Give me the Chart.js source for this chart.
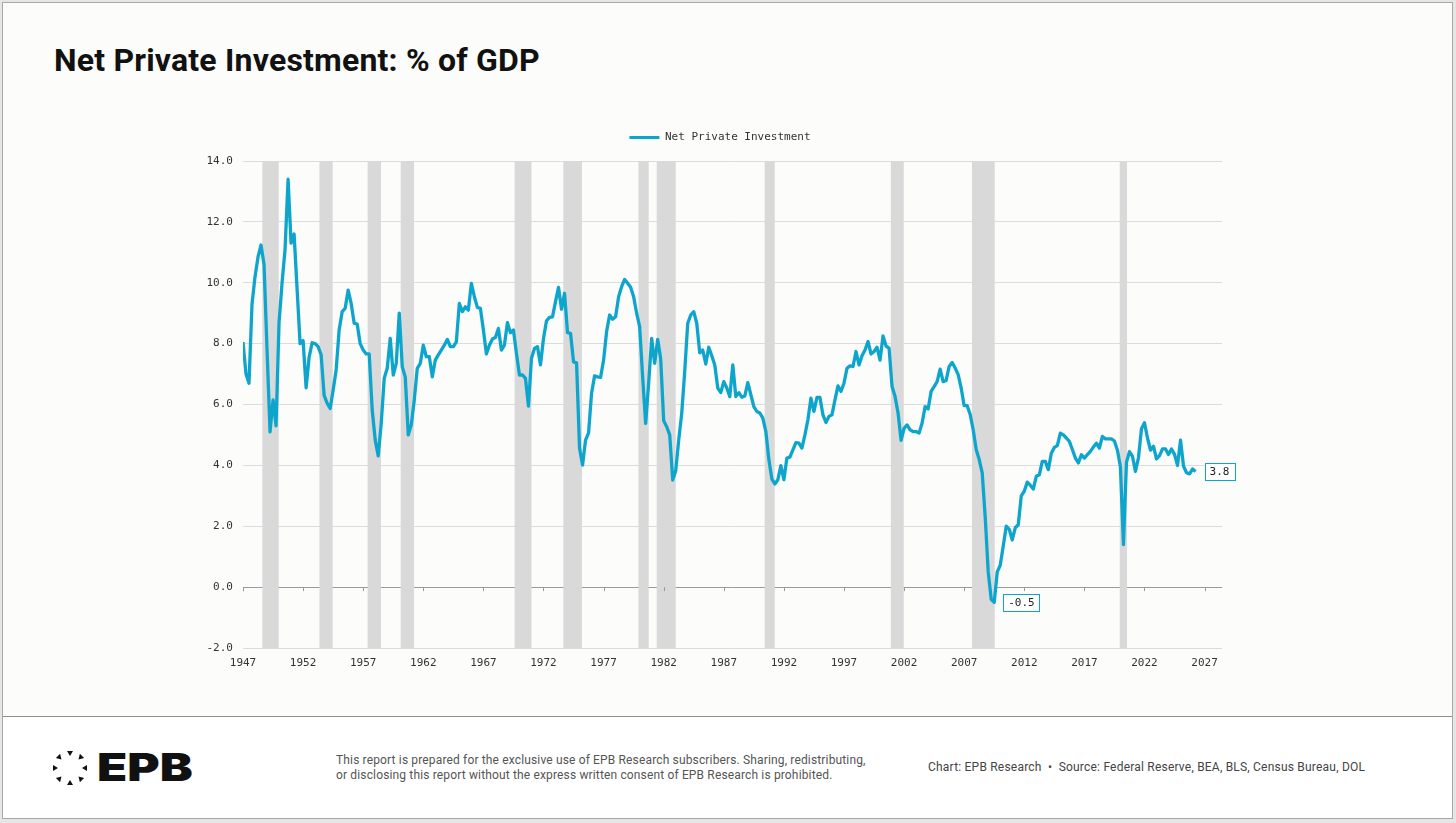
<!DOCTYPE html>
<html>
<head>
<meta charset="utf-8">
<script src="https://cdn.jsdelivr.net/npm/chart.js@4.4.1/dist/chart.umd.min.js"></script>
<style>
  body { margin: 0; width: 1456px; height: 823px; background: #e6e6e6; position: relative; overflow: hidden; }
  #card { position: absolute; left: 2px; top: 2px; width: 1449px; height: 815px; border: 1px solid #a8a8a8; background: #fff; }
  #top { position: absolute; left: 0; top: 0; width: 1449px; height: 713px; background: #fcfcfa; border-bottom: 1px solid #8e8e8e; }
  h1 { position: absolute; left: 51px; top: 41px; margin: 0; font: 700 32px Roboto, sans-serif; letter-spacing: 0.2px; color: #111; line-height: 32px; }
  #myChart { position: absolute; left: 0; top: 110px; }
  .note { position: absolute; font: 12px Roboto, sans-serif; color: #555; line-height: 15px; letter-spacing: 0.15px; }
  #logo { position: absolute; left: 50px; top: 748px; }
  #epb { position: absolute; left: 97px; top: 748px; font: 900 38px Inter, sans-serif; color: #111; line-height: 38px; transform: scaleX(1.3); transform-origin: left center; }
</style>
</head>
<body>
<div id="card">
  <div id="top">
    <h1>Net Private Investment: % of GDP</h1>
  </div>
</div>
<canvas id="myChart" width="1456" height="568"></canvas>

<svg id="logo" width="40" height="40" viewBox="-20 -20 40 40">
  <g fill="#111">
    <polygon points="-3,-17 3,-17 0,-12" transform="rotate(0)"/>
    <polygon points="-3,-17 3,-17 0,-12" transform="rotate(45)"/>
    <polygon points="-3,-17 3,-17 0,-12" transform="rotate(90)"/>
    <polygon points="-3,-17 3,-17 0,-12" transform="rotate(135)"/>
    <polygon points="-3,-17 3,-17 0,-12" transform="rotate(180)"/>
    <polygon points="-3,-17 3,-17 0,-12" transform="rotate(225)"/>
    <polygon points="-3,-17 3,-17 0,-12" transform="rotate(270)"/>
    <polygon points="-3,-17 3,-17 0,-12" transform="rotate(315)"/>
  </g>
</svg>
<div id="epb">EPB</div>
<div class="note" style="left:336px; top:753px;">This report is prepared for the exclusive use of EPB Research subscribers. Sharing, redistributing,<br>or disclosing this report without the express written consent of EPB Research is prohibited.</div>
<div class="note" style="left:928px; top:760px; color:#444; letter-spacing:0.21px;">Chart: EPB Research &nbsp;•&nbsp; Source: Federal Reserve, BEA, BLS, Census Bureau, DOL</div>

<script>
//Datos (trimestrales, desde 1947 T1)
var startYear = 1947;
var seriesName = 'Net Private Investment';
var npi = [
  8.05, 7.0, 6.7, 9.3,      // 1947
  10.2, 10.85, 11.24, 10.6, // 1948
  7.8, 5.1, 6.15, 5.3,      // 1949
  8.7, 10.0, 11.1, 13.4,    // 1950
  11.3, 11.6, 9.8, 8.0,     // 1951
  8.1, 6.55, 7.55, 8.03,    // 1952
  8.0, 7.9, 7.63, 6.3,      // 1953
  6.04, 5.87, 6.48, 7.13,   // 1954
  8.45, 9.05, 9.16, 9.76,   // 1955
  9.32, 8.67, 8.64, 8.0,    // 1956
  7.79, 7.66, 7.66, 5.82,   // 1957
  4.83, 4.31, 5.38, 6.86,   // 1958
  7.19, 8.17, 6.97, 7.35,   // 1959
  9.0, 7.24, 6.9, 5.0,      // 1960
  5.33, 6.15, 7.19, 7.35,   // 1961
  7.95, 7.57, 7.57, 6.91,   // 1962
  7.46, 7.63, 7.79, 7.95,   // 1963
  8.14, 7.9, 7.9, 8.06,     // 1964
  9.32, 9.05, 9.21, 9.1,    // 1965
  9.98, 9.54, 9.19, 9.16,   // 1966
  8.45, 7.66, 7.95, 8.15,   // 1967
  8.2, 8.5, 7.79, 7.95,     // 1968
  8.69, 8.36, 8.45, 7.68,   // 1969
  6.97, 6.97, 6.86, 5.95,   // 1970
  7.52, 7.84, 7.9, 7.3,     // 1971
  8.17, 8.75, 8.86, 8.88,   // 1972
  9.38, 9.85, 9.13, 9.65,   // 1973
  8.36, 8.34, 7.4, 7.37,    // 1974
  4.56, 4.01, 4.83, 5.07,   // 1975
  6.37, 6.94, 6.91, 6.89,   // 1976
  7.46, 8.39, 8.94, 8.8,    // 1977
  8.88, 9.54, 9.87, 10.11,  // 1978
  9.98, 9.85, 9.54, 9.0,    // 1979
  8.56, 6.9, 5.38, 6.7,     // 1980
  8.17, 7.35, 8.14, 7.5,    // 1981
  5.47, 5.27, 5.0, 3.52,    // 1982
  3.82, 4.83, 5.71, 7.08,   // 1983
  8.67, 8.94, 9.05, 8.67,   // 1984
  7.7, 7.79, 7.33, 7.88,    // 1985
  7.6, 7.3, 6.54, 6.39,     // 1986
  6.75, 6.54, 6.26, 7.3,    // 1987
  6.26, 6.39, 6.24, 6.28,   // 1988
  6.72, 6.32, 5.93, 5.77,   // 1989
  5.72, 5.55, 5.11, 4.19,   // 1990
  3.55, 3.39, 3.53, 3.99,   // 1991
  3.53, 4.24, 4.27, 4.51,   // 1992
  4.75, 4.73, 4.57, 5.0,    // 1993
  5.5, 6.21, 5.77, 6.23,    // 1994
  6.23, 5.66, 5.41, 5.61,   // 1995
  5.66, 6.15, 6.61, 6.43,   // 1996
  6.7, 7.19, 7.27, 7.25,    // 1997
  7.74, 7.3, 7.6, 7.79,     // 1998
  8.07, 7.66, 7.74, 7.88,   // 1999
  7.46, 8.25, 7.92, 7.85,   // 2000
  6.59, 6.26, 5.72, 4.82,   // 2001
  5.22, 5.33, 5.17, 5.11,   // 2002
  5.11, 5.06, 5.39, 5.93,   // 2003
  5.85, 6.43, 6.59, 6.75,   // 2004
  7.16, 6.75, 6.79, 7.25,   // 2005
  7.38, 7.2, 6.98, 6.54,    // 2006
  5.96, 5.96, 5.67, 5.17,   // 2007
  4.52, 4.19, 3.75, 2.3,    // 2008
  0.5, -0.4, -0.5, 0.5,     // 2009
  0.72, 1.35, 2.0, 1.9,     // 2010
  1.55, 1.95, 2.05, 3.0,    // 2011
  3.15, 3.45, 3.35, 3.22,   // 2012
  3.64, 3.69, 4.13, 4.13,   // 2013
  3.86, 4.4, 4.59, 4.65,    // 2014
  5.06, 5.0, 4.9, 4.79,     // 2015
  4.52, 4.24, 4.08, 4.35,   // 2016
  4.24, 4.35, 4.46, 4.6,    // 2017
  4.73, 4.57, 4.95, 4.87,   // 2018
  4.87, 4.87, 4.8, 4.5,     // 2019
  3.95, 1.4, 4.1, 4.45,     // 2020
  4.3, 3.8, 4.25, 5.2,      // 2021
  5.4, 4.9, 4.5, 4.63,      // 2022
  4.21, 4.32, 4.54, 4.54,   // 2023
  4.36, 4.54, 4.36, 4.0,    // 2024
  4.83, 3.97, 3.76, 3.72,   // 2025
  3.88, 3.8                 // 2026
];

//Recesiones (sombreado)
var recStart = [1948.61, 1953.36, 1957.37, 1960.12, 1969.6, 1973.65, 1979.9, 1981.42, 1990.4, 2000.9, 2007.65, 2019.94];
var recEnd   = [1949.97, 1954.46, 1958.48, 1961.23, 1971.0, 1975.2, 1980.75, 1983.0, 1991.24, 2001.97, 2009.54, 2020.55];

//Ejes
var xTicks = [1947, 1952, 1957, 1962, 1967, 1972, 1977, 1982, 1987, 1992, 1997, 2002, 2007, 2012, 2017, 2022, 2027];
var yTicks = [-2, 0, 2, 4, 6, 8, 10, 12, 14];

var lineColor = '#0ea5cd';
var monoFont = { family: 'DejaVu Sans Mono', size: 11 };

var points = npi.map(function(v, i) {
    return { x: startYear + i / 4, y: v };
});

//Espacio extra bajo la leyenda
var legendGap = {
    id: 'legendGap',
    beforeInit: function(chart) {
        var fitOrig = chart.legend.fit;
        chart.legend.fit = function() {
            fitOrig.bind(chart.legend)();
            this.height += 8;
        };
    }
};

//Sombreado de recesiones
var recessionBands = {
    id: 'recessionBands',
    beforeDatasetsDraw: function(chart) {
        var ctx = chart.ctx, xs = chart.scales.x, area = chart.chartArea;
        ctx.save();
        ctx.fillStyle = '#d9d9d9';
        for (var i = 0; i < recStart.length; i++) {
            var x1 = xs.getPixelForValue(recStart[i]);
            var x2 = xs.getPixelForValue(recEnd[i]);
            ctx.fillRect(x1, area.top, x2 - x1, area.bottom - area.top);
        }
        ctx.restore();
    }
};

//Marcas del eje x sobre la linea de cero
var zeroTicks = {
    id: 'zeroTicks',
    afterDatasetsDraw: function(chart) {
        var ctx = chart.ctx, xs = chart.scales.x, ys = chart.scales.y;
        var y0 = ys.getPixelForValue(0);
        ctx.save();
        ctx.strokeStyle = '#9a9a9a';
        ctx.lineWidth = 1;
        ctx.beginPath();
        xTicks.forEach(function(t) {
            var x = Math.round(xs.getPixelForValue(t)) + 0.5;
            ctx.moveTo(x, y0);
            ctx.lineTo(x, y0 + 4);
        });
        ctx.stroke();
        ctx.restore();
    }
};

//Etiquetas de valor (minimo y ultimo)
var valueTags = {
    id: 'valueTags',
    afterDatasetsDraw: function(chart) {
        var ctx = chart.ctx, xs = chart.scales.x, ys = chart.scales.y;
        var minIdx = 0;
        for (var i = 1; i < points.length; i++) {
            if (points[i].y < points[minIdx].y) minIdx = i;
        }
        var tags = [points[minIdx], points[points.length - 1]];
        ctx.save();
        ctx.font = '11px "DejaVu Sans Mono"';
        ctx.textBaseline = 'middle';
        tags.forEach(function(p) {
            var txt = p.y.toFixed(1);
            var px = xs.getPixelForValue(p.x) + 9;
            var py = ys.getPixelForValue(p.y);
            var w = ctx.measureText(txt).width + 10;
            var h = 17;
            ctx.fillStyle = '#ffffff';
            ctx.fillRect(px, py - h / 2, w, h);
            ctx.strokeStyle = lineColor;
            ctx.lineWidth = 1;
            ctx.strokeRect(Math.round(px) + 0.5, Math.round(py - h / 2) + 0.5, Math.round(w), h);
            ctx.fillStyle = '#222';
            ctx.fillText(txt, px + 5, py + 0.5);
        });
        ctx.restore();
    }
};

var ctx = document.getElementById('myChart').getContext('2d');

var myChart = new Chart(ctx, {
    type: 'line',
    data: {
        datasets: [{
            label: seriesName,
            data: points,
            borderColor: lineColor,
            backgroundColor: lineColor,
            borderWidth: 3.3,
            pointRadius: 0,
            tension: 0,
            borderJoinStyle: 'round',
            fill: false
        }]
    },
    options: {
        responsive: false,
        animation: false,
        layout: { padding: { left: 218, right: 234, top: 10, bottom: 0 } },
        plugins: {
            legend: {
                position: 'top',
                labels: {
                    boxWidth: 30,
                    boxHeight: 3,
                    padding: 12,
                    color: '#333',
                    font: monoFont,
                    generateLabels: function(chart) {
                        var items = Chart.defaults.plugins.legend.labels.generateLabels(chart);
                        items.forEach(function(it) { it.lineWidth = 0; });
                        return items;
                    }
                }
            },
            tooltip: { enabled: false }
        },
        scales: {
            x: {
                type: 'linear',
                min: 1947,
                max: 2028.45,
                afterBuildTicks: function(scale) {
                    scale.ticks = xTicks.map(function(v) { return { value: v }; });
                },
                afterFit: function(scale) { scale.height = 30; },
                grid: { display: false, drawTicks: false },
                border: { display: false },
                ticks: {
                    padding: 9,
                    maxRotation: 0,
                    autoSkip: false,
                    color: '#333',
                    font: monoFont,
                    callback: function(v) { return String(v); }
                }
            },
            y: {
                min: -2,
                max: 14,
                afterBuildTicks: function(scale) {
                    scale.ticks = yTicks.map(function(v) { return { value: v }; });
                },
                afterFit: function(scale) { scale.width = 25; },
                grid: {
                    drawTicks: false,
                    color: function(c) { return c.tick && c.tick.value === 0 ? '#9a9a9a' : '#dcdcdc'; }
                },
                border: { display: false },
                ticks: {
                    mirror: true,
                    crossAlign: 'far',
                    padding: -36.5,
                    color: '#333',
                    font: monoFont,
                    callback: function(v) { return Number(v).toFixed(1); }
                }
            }
        }
    },
    plugins: [legendGap, recessionBands, zeroTicks, valueTags]
});
</script>
</body>
</html>
